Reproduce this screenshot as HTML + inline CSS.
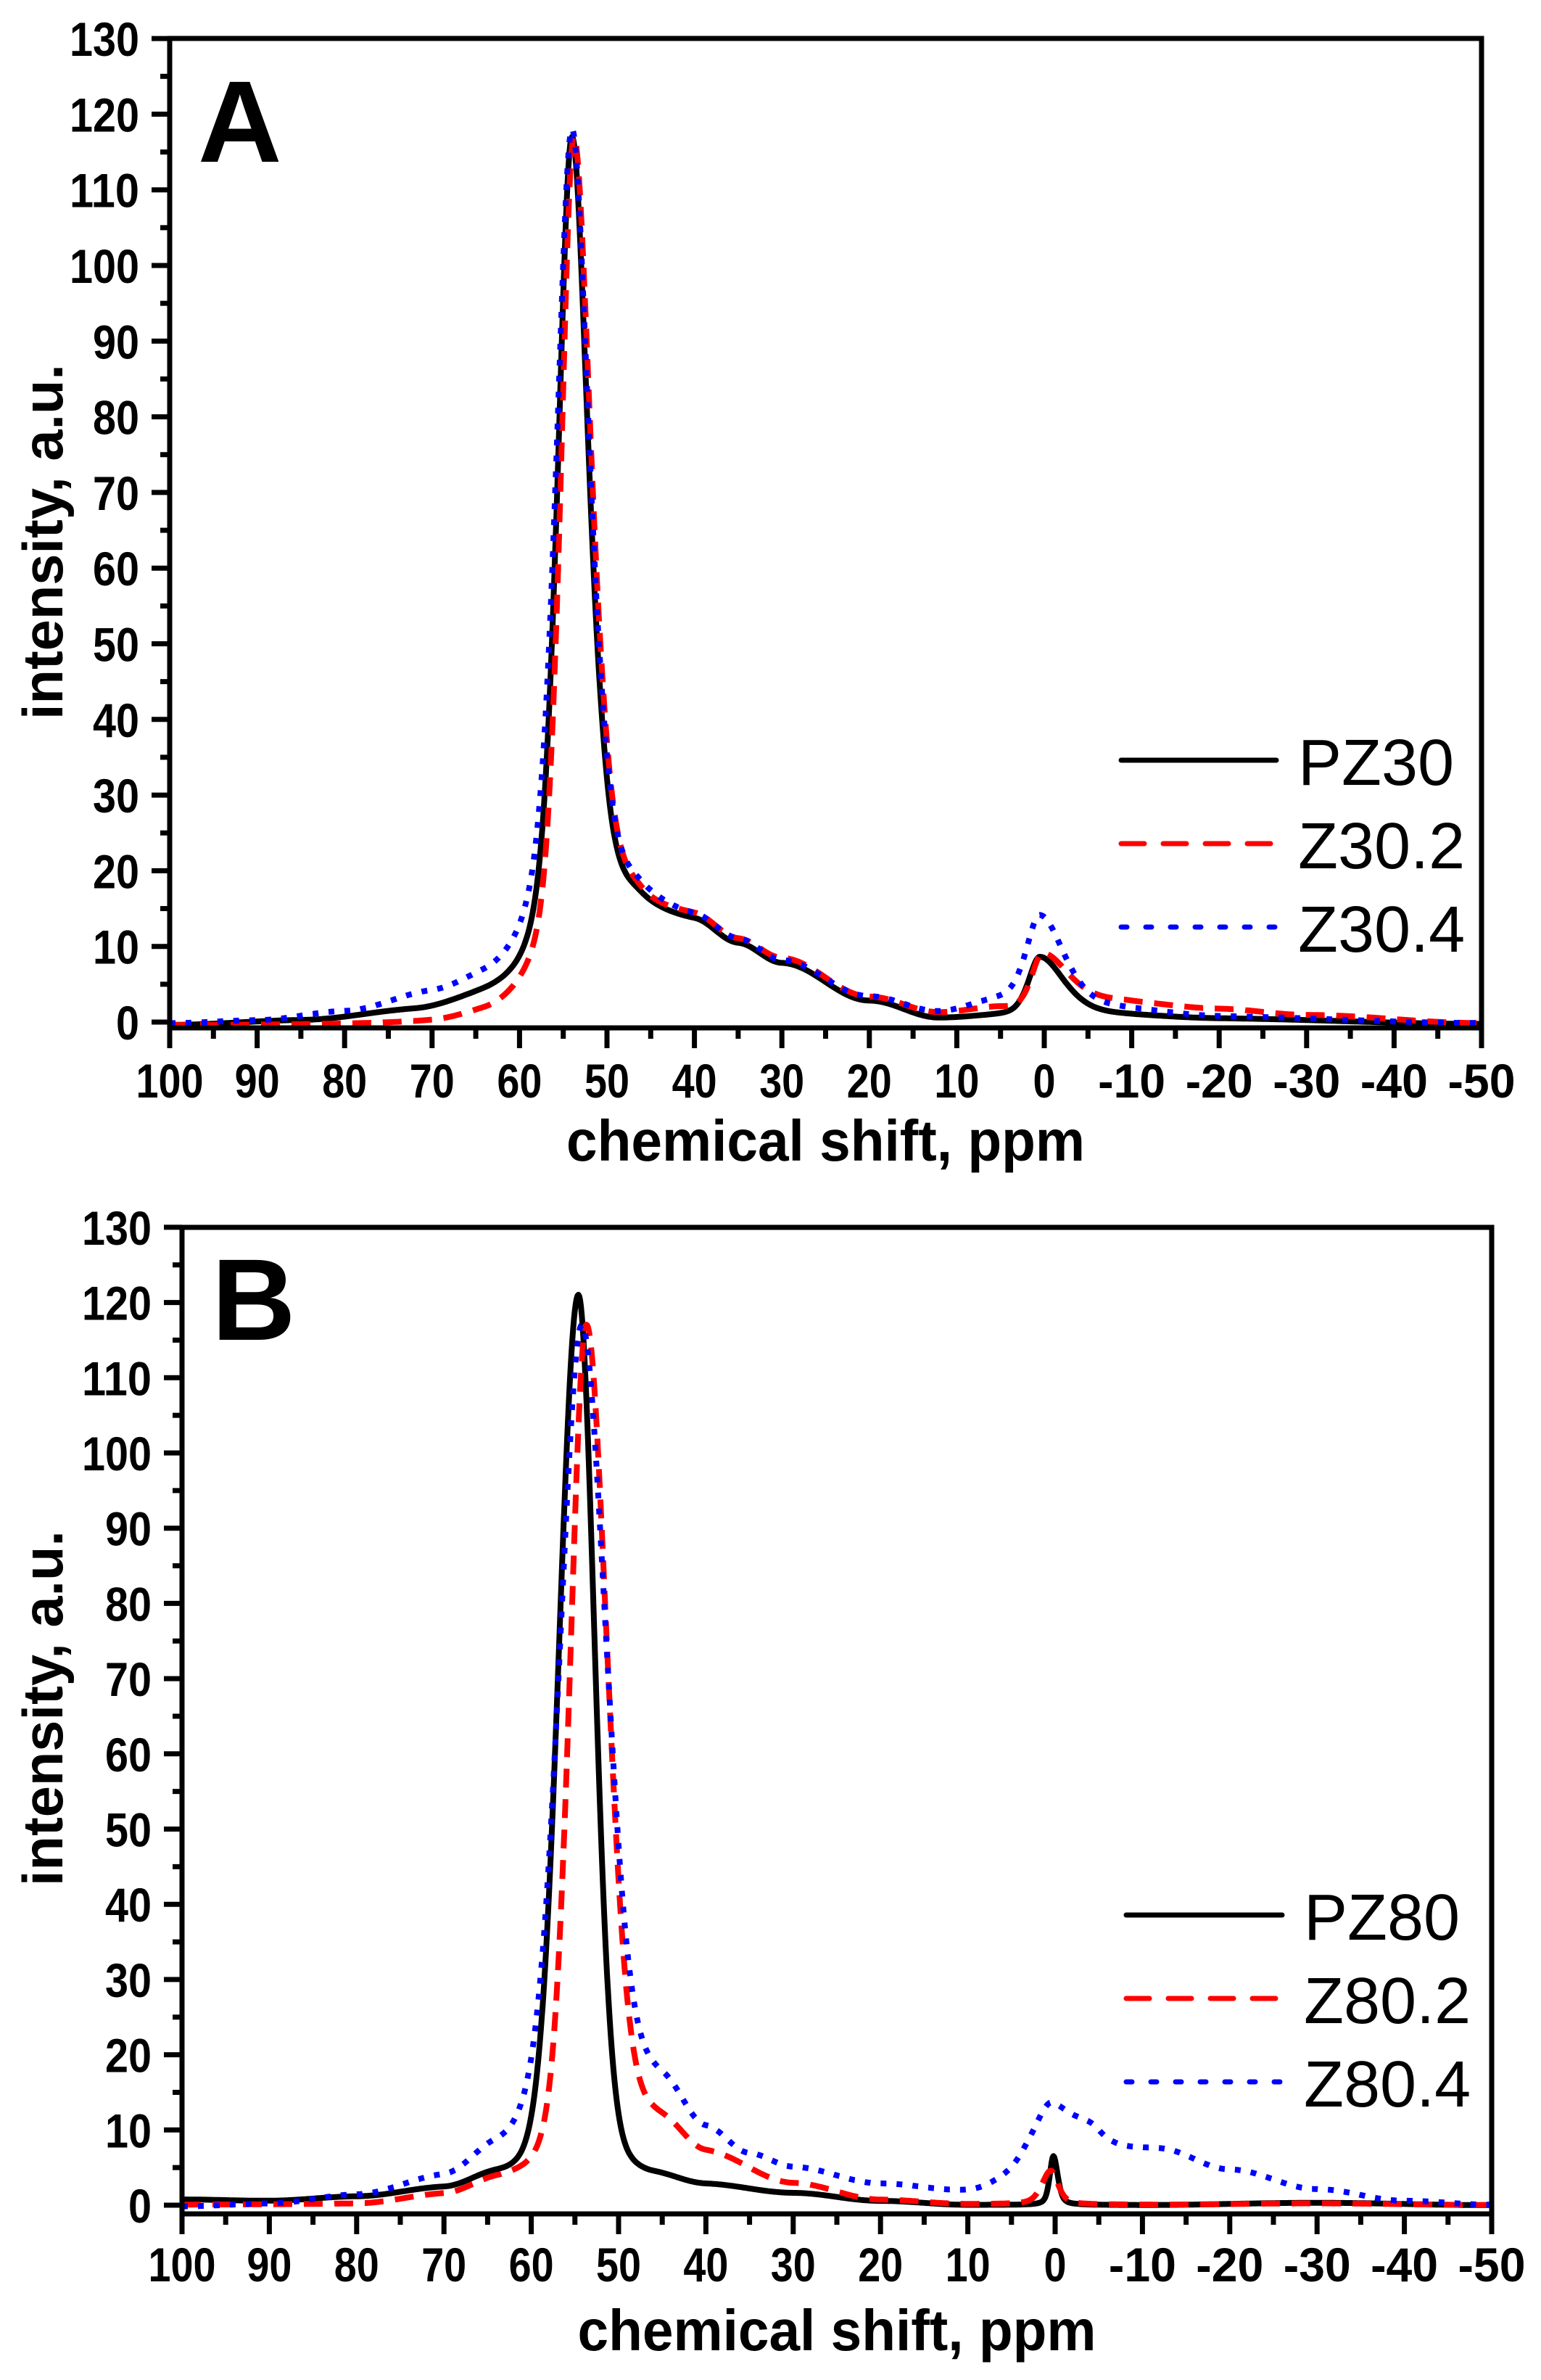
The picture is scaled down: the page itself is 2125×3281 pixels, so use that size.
<!DOCTYPE html>
<html><head><meta charset="utf-8">
<style>
html,body{margin:0;padding:0;background:#fff;}
svg{display:block;}
text{font-family:"Liberation Sans",Arial,sans-serif;}
</style></head>
<body>
<svg id="s" width="2125" height="3281" viewBox="0 0 2125 3281" xmlns="http://www.w3.org/2000/svg">
<rect width="2125" height="3281" fill="#fff"/>
<g id="g"></g>
</svg>
<script>
var g=document.getElementById('g');var out='';
function pv(x,c,h,wl,wr,eta){var w=x>c?wl:wr;var d=(x-c)/w;return h*((1-eta)*Math.exp(-0.6931*d*d)+eta/(1+d*d));}
function interp(x,pts){if(x>=pts[0][0])return pts[0][1];for(var i=1;i<pts.length;i++){if(x>=pts[i][0]){var a=pts[i-1],b=pts[i];var t=(x-b[0])/(a[0]-b[0]);t=(1-Math.cos(t*Math.PI))/2;return b[1]+t*(a[1]-b[1]);}}return pts[pts.length-1][1];}
function plot(P){
 var L=P.L,R=P.R,y0=P.y0,s=P.s,top=P.top,bot=P.bot;
 function X(p){return L+(100-p)/150*(R-L);}
 function Y(v){return y0-v*s;}
 P.series.forEach(function(S){
  var d='';for(var p=100;p>=-50.001;p-=0.1){var v=S.f(p);d+=(d?'L':'M')+X(p).toFixed(1)+','+Y(v).toFixed(1);}
  out+='<path d="'+d+'" fill="none" stroke="'+S.c+'" stroke-width="'+S.w+'" '+(S.da?'stroke-dasharray="'+S.da+'" ':'')+'stroke-linejoin="round"/>';
 });
 out+='<rect x="'+L+'" y="'+top+'" width="'+(R-L)+'" height="'+(bot-top)+'" fill="none" stroke="#000" stroke-width="7"/>';
 for(var v=0;v<=130;v+=5){var y=Y(v);var maj=v%10==0;out+='<line x1="'+(L-(maj?25:13))+'" y1="'+y+'" x2="'+L+'" y2="'+y+'" stroke="#000" stroke-width="7"/>';
  if(maj){var n=(''+v).length;out+='<text x="'+(L-42)+'" y="'+(y+24)+'" font-size="66" font-weight="bold" text-anchor="end" textLength="'+(n*32)+'" lengthAdjust="spacingAndGlyphs">'+v+'</text>';}}
 for(var p=100;p>=-50;p-=5){var x=X(p);var maj=p%10==0;out+='<line x1="'+x+'" y1="'+bot+'" x2="'+x+'" y2="'+(bot+(maj?28:15))+'" stroke="#000" stroke-width="7"/>';
  if(maj){var t=p<0?'-'+(-p):''+p;out+='<text x="'+x+'" y="'+(P.xl)+'" font-size="66" font-weight="bold" text-anchor="middle" textLength="'+(t.length*31)+'" lengthAdjust="spacingAndGlyphs">'+t+'</text>';}}
 out+='<text x="'+((L+R)/2)+'" y="'+P.xt+'" font-size="80" font-weight="bold" text-anchor="middle" textLength="715" lengthAdjust="spacingAndGlyphs">chemical shift, ppm</text>';
 out+='<text transform="translate(86,'+P.yt+') rotate(-90)" font-size="78" font-weight="bold" text-anchor="middle" textLength="490" lengthAdjust="spacingAndGlyphs">intensity, a.u.</text>';
 out+='<text x="'+P.lx+'" y="'+P.ly+'" font-size="160" font-weight="bold">'+P.letter+'</text>';
 P.series.forEach(function(S,i){var y=P.legy+i*115;
  out+='<line x1="'+P.lgx1+'" y1="'+y+'" x2="'+P.lgx2+'" y2="'+y+'" stroke="'+S.c+'" stroke-width="7" '+(S.lda?'stroke-dasharray="'+S.lda+'" ':'')+'stroke-linecap="round"/>';
  out+='<text x="'+(P.lgx2+30)+'" y="'+(y+34)+'" font-size="90">'+S.n+'</text>';});
}
plot({L:234,R:2043,y0:1409,s:10.43,top:53,bot:1417,xl:1513,xt:1600,yt:747,lx:273,ly:223,letter:'A',legy:1048,lgx1:1546,lgx2:1760,
 series:[
 {n:'PZ30',c:'#000',w:8,f:function(p){return pv(p,54,112,2.0,2.3,0.6)+interp(p,[[100,-0.5],[85,0],[72,1],[64,2],[58,2],[54,5],[50,10],[46,12],[40,12],[35,9.5],[30,7.2],[20,2.5],[12,0.3],[6,0.5],[0,0]])+pv(p,0.5,8.5,1.6,3.5,0.6)+interp(p,[[0,0],[-10,0.5],[-20,0.3],[-50,-0.3]]);}},
 {n:'Z30.2',c:'#f00',w:8,da:'26,16',lda:'32,26',f:function(p){return pv(p,53.8,112,1.8,2.4,0.6)+interp(p,[[100,-0.5],[80,-0.5],[70,-0.5],[64,0],[58,1],[54,5],[50,10],[46,12],[40,12.5],[35,10],[30,7.8],[20,3],[12,1],[6,1.5],[0,0]])+pv(p,0.2,9,1.6,4,0.6)+interp(p,[[0,0],[-10,2],[-20,1.5],[-30,0.8],[-50,-0.2]]);}},
 {n:'Z30.4',c:'#00f',w:8,da:'8,14',lda:'8,26',f:function(p){return pv(p,54,112,2.2,2.4,0.6)+interp(p,[[100,-0.3],[90,0],[80,1],[70,3],[64,4],[58,5],[54,6],[50,11],[46,13],[40,12.5],[35,10],[30,7.5],[20,3],[12,1],[6,2],[0,0]])+pv(p,0.5,14,2,3.5,0.6)+interp(p,[[0,0],[-10,1],[-20,0.5],[-50,-0.2]]);}}
 ]});
plot({L:251,R:2057,y0:3040,s:10.37,top:1692,bot:3052,xl:3145,xt:3240,yt:2355,lx:292,ly:1847,letter:'B',legy:2640,lgx1:1553,lgx2:1768,
 series:[
 {n:'PZ80',c:'#000',w:8,f:function(p){return pv(p,54.6,118,2.6,2.2,0.15)+interp(p,[[100,0.7],[90,0.5],[80,1],[70,2],[64,3.5],[58,3.5],[54,3],[50,4],[46,3.5],[40,2.5],[30,1.5],[20,0.5],[10,0],[2,0],[0,0]])+pv(p,0.2,6.5,0.5,0.6,0.5)+interp(p,[[0,0],[-10,0],[-30,0.3],[-50,0]]);}},
 {n:'Z80.2',c:'#f00',w:8,da:'26,16',lda:'32,26',f:function(p){return pv(p,53.7,114,2.2,2.8,0.3)+interp(p,[[100,0],[80,0],[70,1],[64,2.5],[58,2.5],[54,3],[50,7],[45,9],[40,6],[30,2.5],[20,0.5],[10,0],[0,0]])+pv(p,0.5,4.5,1.2,1,0.5)+interp(p,[[0,0],[-10,0],[-30,0.2],[-50,0]]);}},
 {n:'Z80.4',c:'#00f',w:8,da:'8,14',lda:'8,26',f:function(p){return pv(p,54.2,111,3.0,3.2,0.3)+interp(p,[[100,-0.3],[90,0],[80,1],[70,3],[64,6],[58,7],[54,6],[50,12],[45,14],[40,9],[35,6],[30,4.5],[20,2.5],[10,1.5],[4,3],[0,0]])+pv(p,0.3,13.5,2.5,3.5,0.5)+interp(p,[[0,0],[-5,6.5],[-12,7],[-20,4.5],[-30,2],[-40,0.5],[-50,0]]);}}
 ]});
g.innerHTML=out;
</script>
</body></html>
